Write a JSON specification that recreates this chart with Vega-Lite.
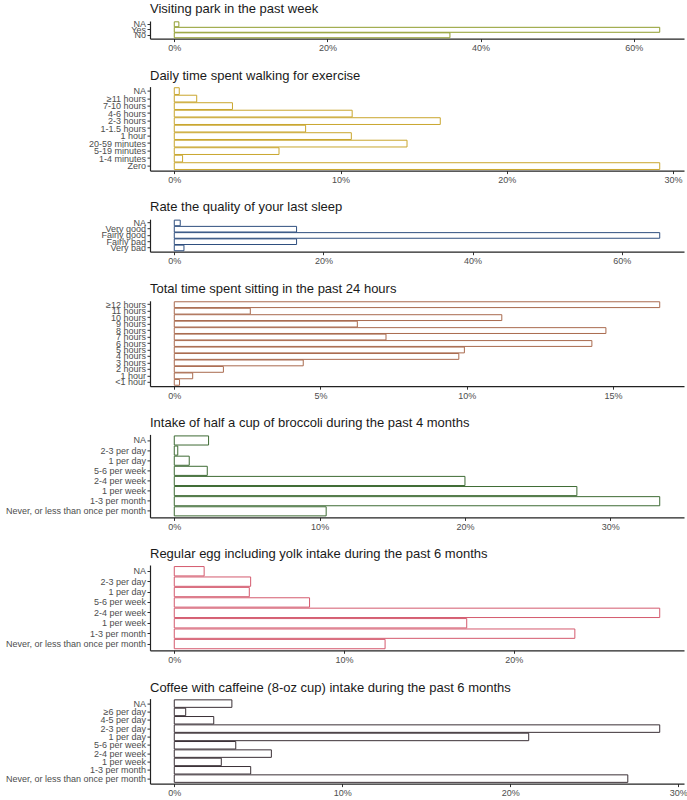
{
  "$schema": "https://vega.github.io/schema/vega-lite/v6.json",
  "background": "white",
  "padding": {"left": 5, "top": 2, "right": 2, "bottom": 0},
  "spacing": 16.6,
  "datasets": {
    "park": [
      {"cat": "NA", "pct": 0.006},
      {"cat": "Yes", "pct": 0.634},
      {"cat": "No", "pct": 0.36}
    ],
    "walk": [
      {"cat": "NA", "pct": 0.003},
      {"cat": "≥11 hours", "pct": 0.0135},
      {"cat": "7-10 hours", "pct": 0.035},
      {"cat": "4-6 hours", "pct": 0.107},
      {"cat": "2-3 hours", "pct": 0.16},
      {"cat": "1-1.5 hours", "pct": 0.079},
      {"cat": "1 hour", "pct": 0.1065},
      {"cat": "20-59 minutes", "pct": 0.14},
      {"cat": "5-19 minutes", "pct": 0.063},
      {"cat": "1-4 minutes", "pct": 0.005},
      {"cat": "Zero", "pct": 0.292}
    ],
    "sleep": [
      {"cat": "NA", "pct": 0.008},
      {"cat": "Very good", "pct": 0.164},
      {"cat": "Fairly good", "pct": 0.651},
      {"cat": "Fairly bad", "pct": 0.164},
      {"cat": "Very bad", "pct": 0.013}
    ],
    "sit": [
      {"cat": "≥12 hours", "pct": 0.166},
      {"cat": "11 hours", "pct": 0.026},
      {"cat": "10 hours", "pct": 0.112},
      {"cat": "9 hours", "pct": 0.0626},
      {"cat": "8 hours", "pct": 0.1476},
      {"cat": "7 hours", "pct": 0.0724},
      {"cat": "6 hours", "pct": 0.1428},
      {"cat": "5 hours", "pct": 0.0992},
      {"cat": "4 hours", "pct": 0.0973},
      {"cat": "3 hours", "pct": 0.0441},
      {"cat": "2 hours", "pct": 0.0168},
      {"cat": "1 hour", "pct": 0.0063},
      {"cat": "<1 hour", "pct": 0.0018}
    ],
    "broccoli": [
      {"cat": "NA", "pct": 0.0236},
      {"cat": "2-3 per day", "pct": 0.0024},
      {"cat": "1 per day", "pct": 0.0103},
      {"cat": "5-6 per week", "pct": 0.0227},
      {"cat": "2-4 per week", "pct": 0.2},
      {"cat": "1 per week", "pct": 0.277},
      {"cat": "1-3 per month", "pct": 0.334},
      {"cat": "Never, or less than once per month", "pct": 0.1045}
    ],
    "egg": [
      {"cat": "NA", "pct": 0.0176},
      {"cat": "2-3 per day", "pct": 0.045},
      {"cat": "1 per day", "pct": 0.0442},
      {"cat": "5-6 per week", "pct": 0.0797},
      {"cat": "2-4 per week", "pct": 0.286},
      {"cat": "1 per week", "pct": 0.1723},
      {"cat": "1-3 per month", "pct": 0.236},
      {"cat": "Never, or less than once per month", "pct": 0.1242}
    ],
    "coffee": [
      {"cat": "NA", "pct": 0.0343},
      {"cat": "≥6 per day", "pct": 0.0068},
      {"cat": "4-5 per day", "pct": 0.0235},
      {"cat": "2-3 per day", "pct": 0.289},
      {"cat": "1 per day", "pct": 0.211},
      {"cat": "5-6 per week", "pct": 0.0366},
      {"cat": "2-4 per week", "pct": 0.0578},
      {"cat": "1 per week", "pct": 0.028},
      {"cat": "1-3 per month", "pct": 0.0455},
      {"cat": "Never, or less than once per month", "pct": 0.27}
    ]
  },
  "vconcat": [
    {
      "data": {"name": "park"},
      "width": 534,
      "height": 17.6,
      "title": "Visiting park in the past week",
      "mark": {"type": "bar", "fill": "white", "stroke": "#8f9c2c", "strokeWidth": 1},
      "encoding": {
        "y": {"field": "cat", "type": "nominal", "sort": null, "title": null,
              "scale": {"paddingInner": 0.1, "paddingOuter": 0.15}},
        "x": {"field": "pct", "type": "quantitative", "title": null,
              "scale": {"domain": [-0.0317, 0.6657], "nice": false, "zero": false},
              "axis": {"values": [0, 0.2, 0.4, 0.6], "format": ".0%"}}
      }
    },
    {
      "data": {"name": "walk"},
      "width": 534,
      "height": 84,
      "title": "Daily time spent walking for exercise",
      "mark": {"type": "bar", "fill": "white", "stroke": "#c9a62e", "strokeWidth": 1},
      "encoding": {
        "y": {"field": "cat", "type": "nominal", "sort": null, "title": null,
              "scale": {"paddingInner": 0.1, "paddingOuter": 0.15}},
        "x": {"field": "pct", "type": "quantitative", "title": null,
              "scale": {"domain": [-0.0146, 0.3066], "nice": false, "zero": false},
              "axis": {"values": [0, 0.1, 0.2, 0.3], "format": ".0%"}}
      }
    },
    {
      "data": {"name": "sleep"},
      "width": 534,
      "height": 32.5,
      "title": "Rate the quality of your last sleep",
      "mark": {"type": "bar", "fill": "white", "stroke": "#2f4f7f", "strokeWidth": 1},
      "encoding": {
        "y": {"field": "cat", "type": "nominal", "sort": null, "title": null,
              "scale": {"paddingInner": 0.1, "paddingOuter": 0.15}},
        "x": {"field": "pct", "type": "quantitative", "title": null,
              "scale": {"domain": [-0.03255, 0.68355], "nice": false, "zero": false},
              "axis": {"values": [0, 0.2, 0.4, 0.6], "format": ".0%"}}
      }
    },
    {
      "data": {"name": "sit"},
      "width": 534,
      "height": 85.4,
      "title": "Total time spent sitting in the past 24 hours",
      "mark": {"type": "bar", "fill": "white", "stroke": "#a96a4e", "strokeWidth": 1},
      "encoding": {
        "y": {"field": "cat", "type": "nominal", "sort": null, "title": null,
              "scale": {"paddingInner": 0.1, "paddingOuter": 0.15}},
        "x": {"field": "pct", "type": "quantitative", "title": null,
              "scale": {"domain": [-0.0083, 0.1743], "nice": false, "zero": false},
              "axis": {"values": [0, 0.05, 0.1, 0.15], "format": ".0%"}}
      }
    },
    {
      "data": {"name": "broccoli"},
      "width": 534,
      "height": 83,
      "title": "Intake of half a cup of broccoli during the past 4 months",
      "mark": {"type": "bar", "fill": "white", "stroke": "#3e6b34", "strokeWidth": 1},
      "encoding": {
        "y": {"field": "cat", "type": "nominal", "sort": null, "title": null,
              "scale": {"paddingInner": 0.1, "paddingOuter": 0.15}},
        "x": {"field": "pct", "type": "quantitative", "title": null,
              "scale": {"domain": [-0.0167, 0.3507], "nice": false, "zero": false},
              "axis": {"values": [0, 0.1, 0.2, 0.3], "format": ".0%"}}
      }
    },
    {
      "data": {"name": "egg"},
      "width": 534,
      "height": 85.3,
      "title": "Regular egg including yolk intake during the past 6 months",
      "mark": {"type": "bar", "fill": "white", "stroke": "#d45a6e", "strokeWidth": 1},
      "encoding": {
        "y": {"field": "cat", "type": "nominal", "sort": null, "title": null,
              "scale": {"paddingInner": 0.1, "paddingOuter": 0.15}},
        "x": {"field": "pct", "type": "quantitative", "title": null,
              "scale": {"domain": [-0.0143, 0.3003], "nice": false, "zero": false},
              "axis": {"values": [0, 0.1, 0.2], "format": ".0%"}}
      }
    },
    {
      "data": {"name": "coffee"},
      "width": 534,
      "height": 85,
      "title": "Coffee with caffeine (8-oz cup) intake during the past 6 months",
      "mark": {"type": "bar", "fill": "white", "stroke": "#3a3036", "strokeWidth": 1},
      "encoding": {
        "y": {"field": "cat", "type": "nominal", "sort": null, "title": null,
              "scale": {"paddingInner": 0.1, "paddingOuter": 0.15}},
        "x": {"field": "pct", "type": "quantitative", "title": null,
              "scale": {"domain": [-0.01445, 0.30345], "nice": false, "zero": false},
              "axis": {"values": [0, 0.1, 0.2, 0.3], "format": ".0%"}}
      }
    }
  ],
  "config": {
    "font": "Liberation Sans",
    "view": {"stroke": null},
    "title": {"anchor": "start", "frame": "group", "fontSize": 13, "fontWeight": "normal",
              "color": "#1a1a1a", "offset": 4},
    "axis": {
      "grid": false,
      "domainColor": "#222222",
      "domainWidth": 1.2,
      "tickColor": "#333333",
      "tickSize": 3,
      "tickWidth": 1,
      "labelColor": "#4d4d4d",
      "labelFontSize": 9,
      "labelPadding": 1.5,
      "labelFont": "Liberation Sans"
    },
    "axisX": {"labelPadding": 2},
    "axisY": {"labelOverlap": false, "labelBound": false, "labelFlush": false}
  }
}
